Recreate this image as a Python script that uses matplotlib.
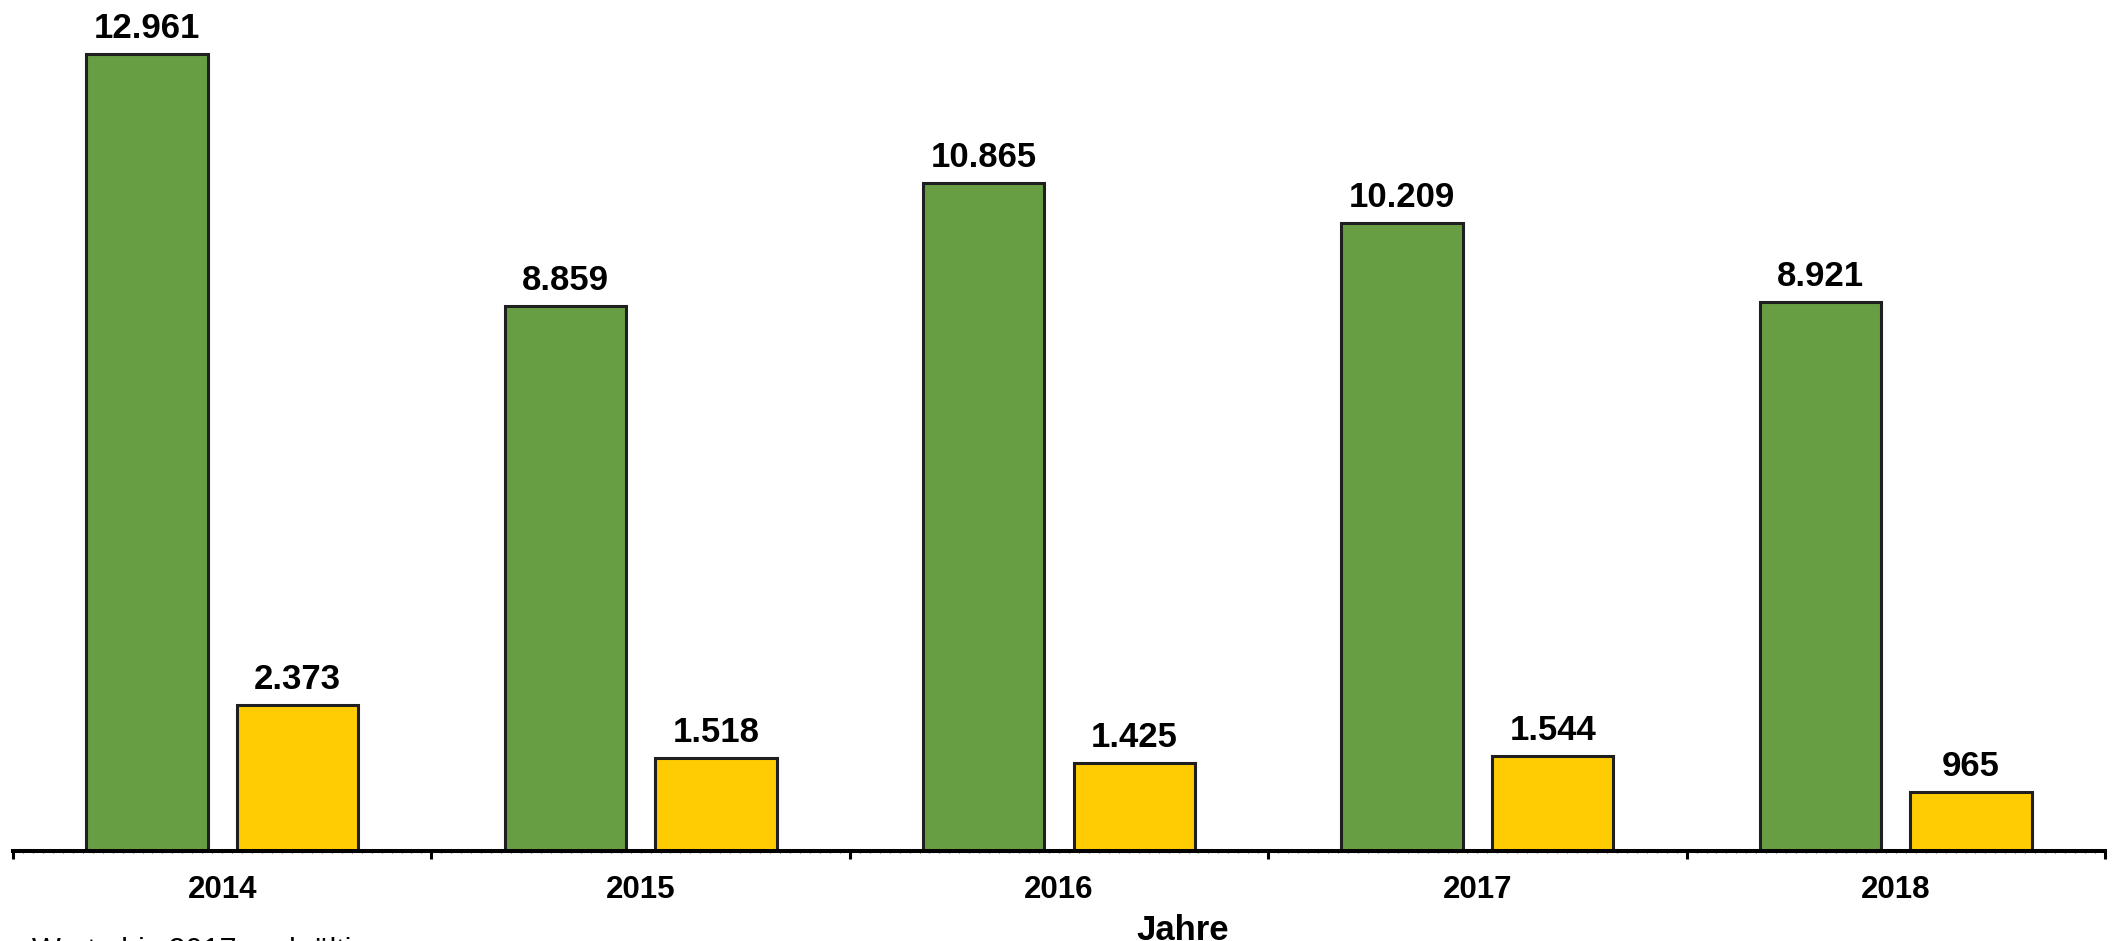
import matplotlib.pyplot as plt
import numpy as np

# Chart data
years = ["2014", "2015", "2016", "2017", "2018"]
green_values = [12961, 8859, 10865, 10209, 8921]
yellow_values = [2373, 1518, 1425, 1544, 965]


def fmt(v):
    # German thousands separator
    return f"{v:,}".replace(",", ".")


plt.rcParams["font.family"] = ["Liberation Sans", "DejaVu Sans"]

fig = plt.figure(figsize=(21.12, 9.41), dpi=100)
ax = fig.add_axes([13 / 2112, 90 / 941, 2092 / 2112, 851 / 941])

x = np.arange(len(years))
bar_w = 0.29
off = 0.18

green_bars = ax.bar(x - off, green_values, width=bar_w, color="#689E43",
                    edgecolor="#1f1f1f", linewidth=2.2, zorder=2)
yellow_bars = ax.bar(x + off, yellow_values, width=bar_w, color="#FFCC03",
                     edgecolor="#1f1f1f", linewidth=2.2, zorder=2)

for bars, vals in [(green_bars, green_values), (yellow_bars, yellow_values)]:
    for b, v in zip(bars, vals):
        ax.annotate(fmt(v), xy=(b.get_x() + b.get_width() / 2, v),
                    xytext=(0, 16), textcoords="offset pixels",
                    ha="center", va="baseline", fontsize=25, fontweight="bold")

# year labels under each group
for i, y in enumerate(years):
    ax.annotate(y, xy=(i, 0), xycoords=("data", "axes fraction"),
                xytext=(0, -47), textcoords="offset pixels",
                ha="center", va="baseline", fontsize=22.5, fontweight="bold")

ax.set_xlim(-0.5, len(years) - 0.5)
ax.set_ylim(0, 13837)

for s in ["top", "right", "left"]:
    ax.spines[s].set_visible(False)
ax.spines["bottom"].set_linewidth(2.9)
ax.spines["bottom"].set_zorder(3)

ax.set_yticks([])
ax.set_xticks(np.arange(-0.5, len(years), 1.0))
ax.set_xticklabels([])
ax.set_xticks(np.arange(-0.5, len(years) - 0.5, 1 / 42), minor=True)
ax.tick_params(axis="x", which="major", direction="out", length=6, width=2.2, color="black")
ax.tick_params(axis="x", which="minor", direction="inout", length=2.5, width=0.8, color="#555555")

fig.text(1183 / 2112, 1 / 941, "Jahre", ha="center", va="baseline",
         fontsize=25, fontweight="bold")
fig.text(32 / 2112, -19 / 941, "Werte bis 2017 endgültig", ha="left", va="baseline",
         fontsize=22)

fig.savefig("out.png", dpi=100)
